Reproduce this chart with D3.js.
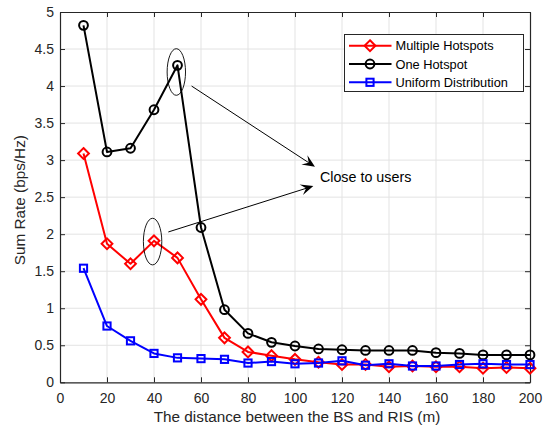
<!DOCTYPE html>
<html>
<head>
<meta charset="utf-8">
<script src="https://cdn.jsdelivr.net/npm/d3@7"></script>
<style>
  html, body { margin: 0; padding: 0; background: #fff; }
  svg { display: block; font-family: "Liberation Sans", Arial, Helvetica, sans-serif; }
</style>
</head>
<body>
<svg id="chart" width="546" height="427"></svg>
<script>
// Distance between BS and RIS (m)
const distances = [10, 20, 30, 40, 50, 60, 70, 80, 90, 100, 110, 120, 130, 140, 150, 160, 170, 180, 190, 200];

// Sum rate (bps/Hz) for each user layout
const multipleHotspots = [3.09, 1.87, 1.60, 1.91, 1.68, 1.12, 0.60, 0.41, 0.36, 0.31, 0.27, 0.24, 0.24, 0.21, 0.22, 0.21, 0.21, 0.19, 0.20, 0.19];
const oneHotspot = [4.82, 3.11, 3.16, 3.68, 4.28, 2.09, 0.98, 0.66, 0.54, 0.49, 0.45, 0.44, 0.43, 0.43, 0.43, 0.40, 0.39, 0.37, 0.37, 0.37];
const uniformDistribution = [1.54, 0.76, 0.56, 0.39, 0.33, 0.32, 0.31, 0.26, 0.28, 0.25, 0.26, 0.29, 0.23, 0.25, 0.22, 0.22, 0.24, 0.25, 0.24, 0.24];

const seriesNames = ["Multiple Hotspots", "One Hotspot", "Uniform Distribution"];
const seriesColors = ["#ff0000", "#000000", "#0000ff"];
const seriesMarkers = ["diamond", "circle", "square"];

const xTicks = [0, 20, 40, 60, 80, 100, 120, 140, 160, 180, 200];
const yTicks = [0, 0.5, 1, 1.5, 2, 2.5, 3, 3.5, 4, 4.5, 5];

const xLabel = "The distance between the BS and RIS (m)";
const yLabel = "Sum Rate (bps/Hz)";
const noteText = "Close to users";

// Annotation geometry in data units: highlighted points and arrows into the note
const ellipses = [{ cx: 49.5, cy: 4.19 }, { cx: 39.4, cy: 1.90 }];
const arrows = [
  { x1: 56.0, y1: 4.00, x2: 108.5, y2: 2.91 },
  { x1: 46.1, y1: 2.03, x2: 107.8, y2: 2.65 }
];
const notePos = { x: 110.6, y: 2.70 };

(function draw() {
  const svg = d3.select("#chart");
  const mLeft = 60, mRight = 530, mTop = 12, mBottom = 382.3;

  const x = d3.scaleLinear().domain([0, 200]).range([mLeft, mRight]);
  const y = d3.scaleLinear().domain([0, 5]).range([mBottom, mTop]);

  const axisColor = "#262626";

  // Grid
  const grid = svg.append("g");
  grid.selectAll(".gx").data(xTicks.slice(1, -1)).join("line")
    .attr("x1", d => x(d)).attr("x2", d => x(d))
    .attr("y1", mTop).attr("y2", mBottom)
    .attr("stroke", "#e3e3e3").attr("stroke-width", 1);
  grid.selectAll(".gy").data(yTicks.slice(1, -1)).join("line")
    .attr("y1", d => y(d)).attr("y2", d => y(d))
    .attr("x1", mLeft).attr("x2", mRight)
    .attr("stroke", "#e3e3e3").attr("stroke-width", 1);

  // Axes (ticks pointing inward, box on all four sides)
  const tickLen = 5;
  const xAxisB = d3.axisBottom(x).tickValues(xTicks).tickFormat(d3.format("d")).tickSizeInner(-tickLen).tickSizeOuter(0).tickPadding(11);
  const yAxisL = d3.axisLeft(y).tickValues(yTicks).tickFormat(d => String(d)).tickSizeInner(-tickLen).tickSizeOuter(0).tickPadding(6);
  const xAxisT = d3.axisTop(x).tickValues(xTicks).tickFormat("").tickSizeInner(-tickLen).tickSizeOuter(0);
  const yAxisR = d3.axisRight(y).tickValues(yTicks).tickFormat("").tickSizeInner(-tickLen).tickSizeOuter(0);

  function styleAxis(g) {
    g.selectAll("path").attr("stroke", axisColor).attr("stroke-width", 1.2);
    g.selectAll("line").attr("stroke", axisColor).attr("stroke-width", 1);
    g.selectAll("text").attr("fill", axisColor).style("font-size", "14px")
      .style("font-family", "'Liberation Sans', Arial, sans-serif");
  }
  svg.append("g").attr("transform", `translate(0,${mBottom})`).call(xAxisB).call(styleAxis);
  svg.append("g").attr("transform", `translate(${mLeft},0)`).call(yAxisL).call(styleAxis);
  svg.append("g").attr("transform", `translate(0,${mTop})`).call(xAxisT).call(styleAxis);
  svg.append("g").attr("transform", `translate(${mRight},0)`).call(yAxisR).call(styleAxis);

  // Axis titles
  svg.append("text").attr("x", (mLeft + mRight) / 2 + 2).attr("y", 422)
    .attr("text-anchor", "middle").attr("fill", axisColor).style("font-size", "15.3px").text(xLabel);
  svg.append("text").attr("transform", `translate(25,${(mTop + mBottom) / 2 + 3}) rotate(-90)`)
    .attr("text-anchor", "middle").attr("fill", axisColor).style("font-size", "15.3px").text(yLabel);

  // Marker drawing
  function marker(sel, type, color) {
    if (type === "circle") {
      sel.append("circle").attr("r", 4.4).attr("fill", "none").attr("stroke", color).attr("stroke-width", 2);
    } else if (type === "diamond") {
      sel.append("path").attr("d", "M0,-5.4L5.4,0L0,5.4L-5.4,0Z").attr("fill", "none").attr("stroke", color).attr("stroke-width", 2);
    } else {
      sel.append("rect").attr("x", -3.6).attr("y", -3.6).attr("width", 7.2).attr("height", 7.2)
        .attr("fill", "none").attr("stroke", color).attr("stroke-width", 2);
    }
  }

  const allSeries = [multipleHotspots, oneHotspot, uniformDistribution];
  const line = d3.line().x(d => x(d[0])).y(d => y(d[1]));
  const plot = svg.append("g");
  allSeries.forEach((vals, i) => {
    const pts = distances.map((d, j) => [d, vals[j]]);
    const g = plot.append("g");
    g.append("path").attr("d", line(pts)).attr("fill", "none")
      .attr("stroke", seriesColors[i]).attr("stroke-width", 2).attr("stroke-linejoin", "round");
    pts.forEach(p => {
      const m = g.append("g").attr("transform", `translate(${x(p[0])},${y(p[1])})`);
      marker(m, seriesMarkers[i], seriesColors[i]);
    });
  });

  // Annotations
  const ann = svg.append("g");
  ellipses.forEach(e => {
    ann.append("ellipse").attr("cx", x(e.cx)).attr("cy", y(e.cy))
      .attr("rx", 9.2).attr("ry", 23.3).attr("fill", "none").attr("stroke", "#000").attr("stroke-width", 0.9);
  });
  arrows.forEach(a => {
    const x1 = x(a.x1), y1 = y(a.y1), x2 = x(a.x2), y2 = y(a.y2);
    const ang = Math.atan2(y2 - y1, x2 - x1);
    const L = 11, W = 5.5, back = 7.5;
    ann.append("line").attr("x1", x1).attr("y1", y1)
      .attr("x2", x2 - Math.cos(ang) * back).attr("y2", y2 - Math.sin(ang) * back)
      .attr("stroke", "#000").attr("stroke-width", 1);
    const c = Math.cos(ang), s = Math.sin(ang);
    const pt = (u, v) => [x2 + u * c - v * s, y2 + u * s + v * c];
    const head = [pt(0, 0), pt(-L * 1.15, W), pt(-back, 0), pt(-L * 1.15, -W)];
    ann.append("path").attr("d", "M" + head.map(p => p.join(",")).join("L") + "Z").attr("fill", "#000");
  });
  ann.append("text").attr("x", x(notePos.x)).attr("y", y(notePos.y))
    .attr("fill", "#000").style("font-size", "14.3px").text(noteText);

  // Legend
  const lg = svg.append("g");
  const lgX = 344.5, lgY = 34.5, lgW = 179, lgH = 57;
  lg.append("rect").attr("x", lgX).attr("y", lgY).attr("width", lgW).attr("height", lgH)
    .attr("fill", "#fff").attr("stroke", axisColor).attr("stroke-width", 1);
  seriesNames.forEach((name, i) => {
    const ry = 45.7 + i * 18.3;
    lg.append("line").attr("x1", 349).attr("x2", 391.5).attr("y1", ry).attr("y2", ry)
      .attr("stroke", seriesColors[i]).attr("stroke-width", 2);
    const m = lg.append("g").attr("transform", `translate(370,${ry})`);
    marker(m, seriesMarkers[i], seriesColors[i]);
    lg.append("text").attr("x", 395.5).attr("y", ry + 4.5).attr("fill", "#000")
      .style("font-size", "12.8px").text(name);
  });
})();
</script>
</body>
</html>
